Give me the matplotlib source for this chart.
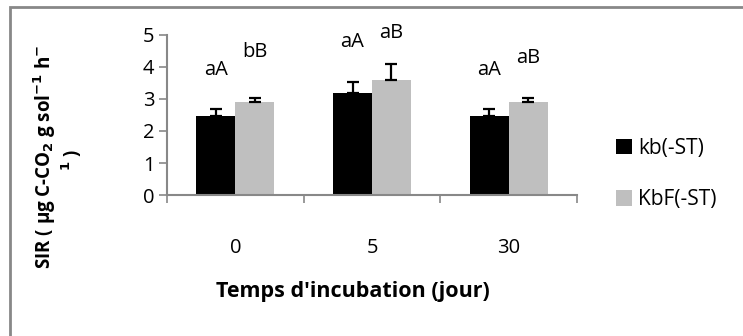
import matplotlib
matplotlib.use('Agg')
import matplotlib.pyplot as plt
import matplotlib.patches as mpatches
import numpy as np

plt.rcParams['font.family'] = ['Open Sans', 'DejaVu Sans']

# Data
categories = ['0', '5', '30']
kb_vals = [2.48, 3.18, 2.48]
kb_err = [0.2, 0.35, 0.21]
kbf_vals = [2.91, 3.6, 2.9]
kbf_err = [0.12, 0.48, 0.12]
kb_letters = ['aA', 'aA', 'aA']
kbf_letters = ['bB', 'aB', 'aB']
kb_letter_y = [3.9, 4.78, 3.9]
kbf_letter_y = [4.47, 5.06, 4.28]

fig = plt.figure(figsize=(7.43, 3.36), dpi=100)
ax = fig.add_axes([167 / 743, 1 - 195 / 336, 410 / 743, 160 / 336])

x = np.arange(len(categories))
w = 0.285
ax.bar(x - w / 2, kb_vals, w, color='black', label='kb(-ST)')
ax.bar(x + w / 2, kbf_vals, w, color='#BFBFBF', label='KbF(-ST)')
ax.errorbar(x - w / 2, kb_vals, yerr=[np.zeros(3), kb_err], fmt='none',
            ecolor='black', elinewidth=1.6, capsize=4, capthick=1.6)
ax.errorbar(x + w / 2, kbf_vals, yerr=[np.zeros(3), kbf_err], fmt='none',
            ecolor='black', elinewidth=1.6, capsize=4, capthick=1.6)

for i in range(len(categories)):
    ax.text(x[i] - w / 2, kb_letter_y[i], kb_letters[i], ha='center', va='center', fontsize=14.5, clip_on=False)
    ax.text(x[i] + w / 2, kbf_letter_y[i], kbf_letters[i], ha='center', va='center', fontsize=14.5, clip_on=False)

ax.set_xlim(-0.5, 2.5)
ax.set_ylim(0, 5)
ax.set_yticks([0, 1, 2, 3, 4, 5])
ax.tick_params(axis='y', labelsize=14.5, color='#888888', length=6, width=1.2, pad=3)
ax.set_xticks([-0.5, 0.5, 1.5, 2.5])
ax.set_xticklabels([])
ax.set_xticks(x, minor=True)
ax.set_xticklabels(categories, minor=True)
ax.tick_params(axis='x', which='major', color='#888888', length=6, width=1.2)
ax.tick_params(axis='x', which='minor', length=0, labelsize=14.5, pad=31)

for s in ['top', 'right']:
    ax.spines[s].set_visible(False)
for s in ['left', 'bottom']:
    ax.spines[s].set_color('#888888')
    ax.spines[s].set_linewidth(1.5)

fig.text(353 / 743, 1 - 292 / 336, "Temps d'incubation (jour)", ha='center', va='center',
         fontsize=15.5, fontweight='bold')
fig.text(45 / 743, 1 - 157 / 336, 'SIR ( µg C-CO$_\\mathbf{2}$ g sol$^\\mathbf{-1}$ h$^\\mathbf{-}$',
         rotation=90, ha='center', va='center', fontsize=13.5, fontweight='bold')
fig.text(72 / 743, 1 - 160 / 336, '$^\\mathbf{1}$ )', rotation=90, ha='center', va='center',
         fontsize=13.5, fontweight='bold')

ax.legend(loc='center left', bbox_to_anchor=(1.05, 0.13), frameon=False, fontsize=15,
          handlelength=0.75, handleheight=0.75, handletextpad=0.3, labelspacing=1.45)

fig.patches.append(mpatches.Rectangle((10 / 743, -0.1), 1.0, 1 - 7 / 336 + 0.1,
                                      transform=fig.transFigure, fill=False,
                                      edgecolor='#888888', linewidth=2))

fig.savefig('out.png', dpi=100)
